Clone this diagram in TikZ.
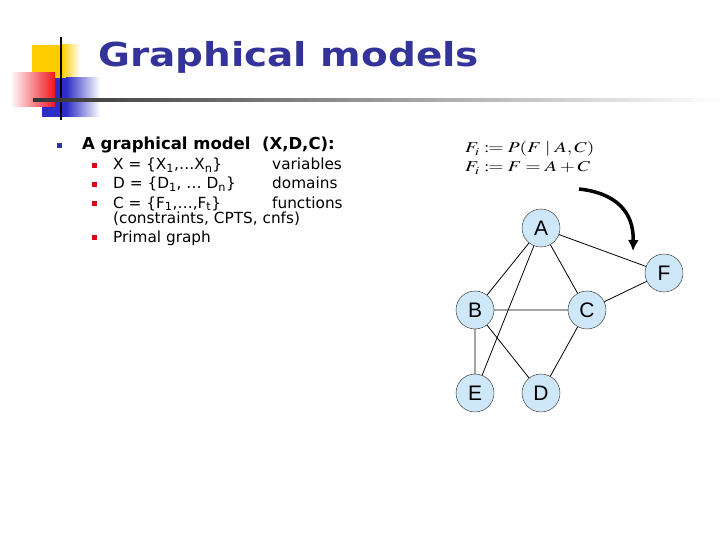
\documentclass[tikz,border=0pt]{standalone}
\usepackage{mathptmx}
\usepackage{mathtools}
\usepackage{graphicx}
\usepackage{fontspec}
\setmainfont{DejaVu Sans}
\newfontfamily\arialfont{Liberation Sans}
\newfontfamily\titlefont[FakeStretch=1.18]{DejaVu Sans Bold}
\usetikzlibrary{arrows.meta}
\definecolor{titleblue}{RGB}{51,51,153}
\definecolor{bulletred}{RGB}{210,10,20}
\definecolor{nodeblue}{RGB}{206,232,250}
\definecolor{boxyellow}{RGB}{255,204,0}
\definecolor{boxblue}{RGB}{45,45,200}
\definecolor{boxred}{RGB}{240,20,30}

\tikzset{
  var/.style={circle, draw=black!85, fill=nodeblue, minimum size=38pt, inner sep=0pt,
    font=\arialfont\fontsize{21}{21}\selectfont},
  item/.style={anchor=base west, inner sep=0pt, font=\fontsize{15.3}{15.3}\selectfont},
  formula/.style={anchor=base west, inner sep=0pt, font=\fontsize{15}{15}\selectfont},
}

\begin{document}
\begin{tikzpicture}[x=1pt,y=-1pt]
\useasboundingbox (0,0) rectangle (720,540);
% Title squares
\fill[boxyellow] (32,45) rectangle (62,93);
\shade[left color=boxyellow, right color=white] (62,45) rectangle (80,93);
\fill[boxblue] (42,78) rectangle (66,117);
\shade[left color=boxblue, right color=white] (66,78) rectangle (100,117);
\shade[left color=white, right color=boxred] (10,73) rectangle (55,107);
% Title lines
\draw[line width=2pt] (61,37) -- (61,120);
\shade[left color=black!80, right color=white] (33,99) rectangle (720,101.5);
% Title
\node[anchor=base west, inner sep=0pt, text=titleblue, font=\titlefont\fontsize{33}{33}\selectfont] (title) at (98,67) {Graphical models};

% Bullets
\fill[titleblue] (57,143) rectangle (62,148);
\foreach \b in {170,189,208,242}
  \fill[bulletred] (92,\b-7) rectangle (97,\b-2);
\node[item, font=\bfseries\fontsize{16.5}{16.5}\selectfont] (model) at (82,150) {A graphical model\ \ (X,D,C):};
\node[item] (xset) at (113,170) {X = \{X\textsubscript{1},\ldots X\textsubscript{n}\}};
\node[item] (dset) at (113,189) {D = \{D\textsubscript{1}, \ldots\ D\textsubscript{n}\}};
\node[item] (cset) at (113,208) {C = \{F\textsubscript{1},\ldots,F\textsubscript{t}\}};
\node[item] (kinds) at (113,223) {(constraints, CPTS, cnfs)};
\node[item] (primal) at (113,242) {Primal graph};
\node[item] (xname) at (272,170) {variables};
\node[item] (dname) at (272,189) {domains};
\node[item] (cname) at (272,208) {functions};

% Functions
\node[formula] (fprob) at (465,153) {\scalebox{1.3}[1]{$F_i \coloneqq P(F \mid A,C)$}};
\node[formula] (fsum) at (465,172) {\scalebox{1.3}[1]{$F_i \coloneqq F = A+C$}};

% Primal graph
\node[var] (A) at (541,228) {A};
\node[var] (B) at (475,310) {B};
\node[var] (C) at (587,310) {C};
\node[var] (F) at (664,273) {F};
\node[var] (E) at (475,393) {E};
\node[var] (D) at (541,393) {D};
\draw[line width=0.8pt] (A) -- (B) (A) -- (E) (A) -- (C) (A) -- (F);
\draw[line width=0.8pt] (B) -- (C) (B) -- (E) (B) -- (D);
\draw[line width=0.8pt] (C) -- (D) (C) -- (F);

% Arrow
\coordinate (arrS) at (579,189);
\coordinate (arrE) at (633,251);
\draw[line width=3.5pt, -{Latex[length=11pt,width=11pt]}] (arrS) .. controls (616,193) and (634,212) .. (arrE);
\end{tikzpicture}
\end{document}
